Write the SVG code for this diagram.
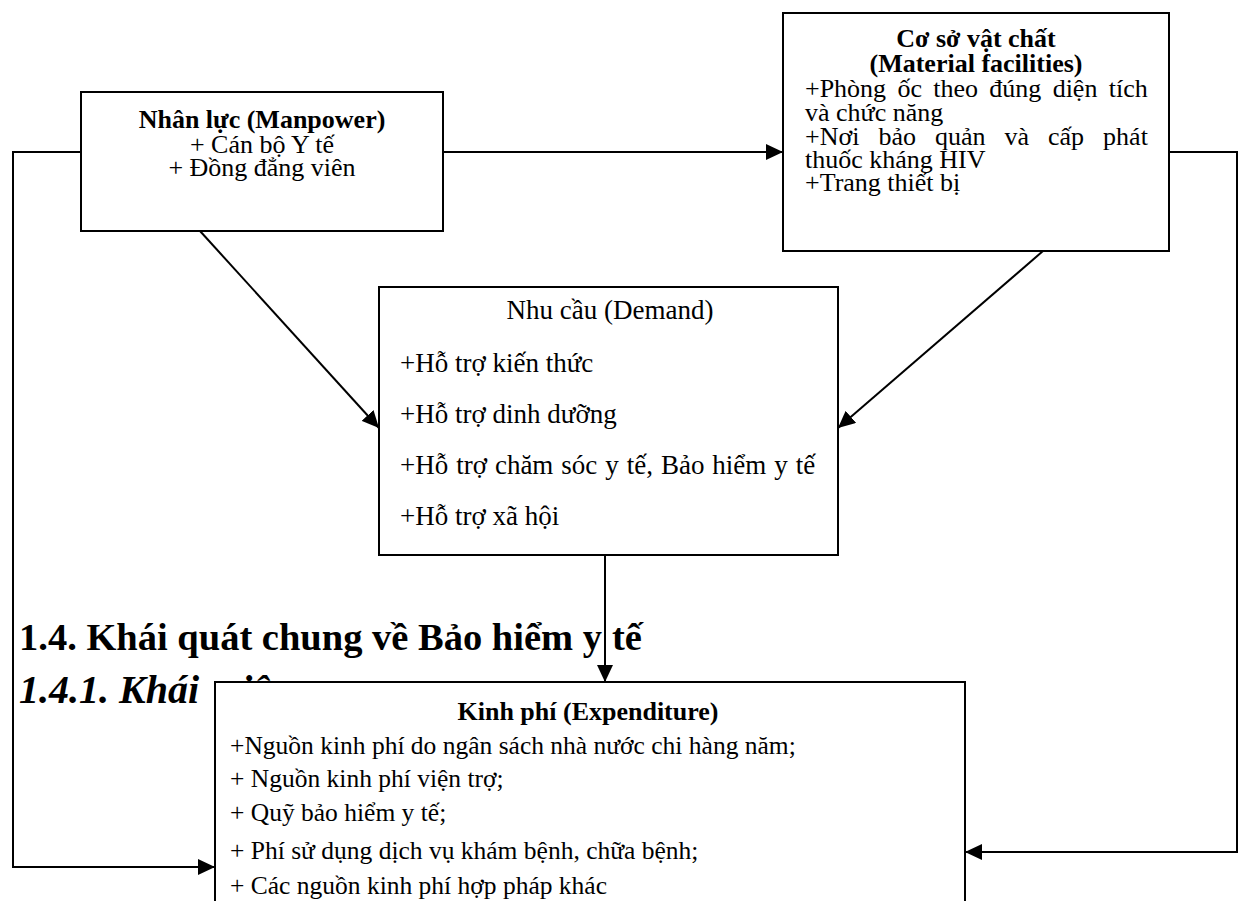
<svg xmlns="http://www.w3.org/2000/svg" width="1243" height="901" viewBox="0 0 1243 901">
<style>
.box{fill:#fff;stroke:#000;stroke-width:2}
.t{font-family:"Liberation Serif","Times New Roman",serif;font-size:26px;fill:#000}
.d{font-size:27px}
.k{font-size:25.5px}
.b{font-weight:bold}
.c{text-anchor:middle}
.h{font-family:"Liberation Serif","Times New Roman",serif;font-size:38.5px;font-weight:bold;fill:#000}
.conn{fill:none;stroke:#000;stroke-width:2}
</style>
<defs>
<marker id="arr" markerUnits="userSpaceOnUse" markerWidth="20" markerHeight="16" refX="17" refY="8" orient="auto">
<path d="M0,0 L17,8 L0,16 Z" fill="#000"/>
</marker>
</defs>
<rect width="1243" height="901" fill="#fff"/>
<g id="headings">
<text class="h" x="19" y="650">1.4. Khái quát chung về Bảo hiểm y <tspan x="612">tế</tspan></text>
<text class="h" x="19" y="703" font-style="italic" style="font-size:40px">1.4.1. Khái <tspan x="219">niệm</tspan></text>
</g>
<g id="manpower">
<rect class="box" x="81" y="92" width="362" height="139"/>
<text class="t b c" x="262" y="128">Nhân lực (Manpower)</text>
<text class="t c" x="262" y="153">+ Cán bộ Y tế</text>
<text class="t c" x="262" y="176">+ Đồng đẳng viên</text>
</g>
<g id="facilities">
<rect class="box" x="783" y="13" width="386" height="238"/>
<text class="t b c" x="976" y="47">Cơ sở vật chất</text>
<text class="t b c" x="976" y="72">(Material facilities)</text>
<text class="t" x="805" y="97" word-spacing="4.8">+Phòng ốc theo đúng diện tích</text>
<text class="t" x="805" y="121">và chức năng</text>
<text class="t" x="805" y="145" word-spacing="12.5">+Nơi bảo quản và cấp phát</text>
<text class="t" x="805" y="168">thuốc kháng HIV</text>
<text class="t" x="805" y="191">+Trang thiết bị</text>
</g>
<g id="demand">
<rect class="box" x="379" y="287" width="459" height="268"/>
<text class="t d c" x="610" y="319">Nhu cầu (Demand)</text>
<text class="t d" x="400" y="372">+Hỗ trợ kiến thức</text>
<text class="t d" x="400" y="423">+Hỗ trợ dinh dưỡng</text>
<text class="t d" x="400" y="474" word-spacing="1.2">+Hỗ trợ chăm sóc y tế, Bảo hiểm y tế</text>
<text class="t d" x="400" y="525">+Hỗ trợ xã hội</text>
</g>
<g id="expenditure">
<rect class="box" x="215" y="682" width="750" height="240"/>
<text class="t b c" x="588" y="720">Kinh phí (Expenditure)</text>
<text class="t k" x="230" y="754">+Nguồn kinh phí do ngân sách nhà nước chi hàng năm;</text>
<text class="t k" x="230" y="787">+ Nguồn kinh phí viện trợ;</text>
<text class="t k" x="230" y="821">+ Quỹ bảo hiểm y tế;</text>
<text class="t k" x="230" y="859">+ Phí sử dụng dịch vụ khám bệnh, chữa bệnh;</text>
<text class="t k" x="230" y="894">+ Các nguồn kinh phí hợp pháp khác</text>
</g>
<g id="connectors">
<path class="conn" d="M443,152 L783,152" marker-end="url(#arr)"/>
<path class="conn" d="M81,152 L13,152 L13,867 L215,867" marker-end="url(#arr)"/>
<path class="conn" d="M1169,152 L1237,152 L1237,852 L965,852" marker-end="url(#arr)"/>
<path class="conn" d="M200,231 L379,428" marker-end="url(#arr)"/>
<path class="conn" d="M1043,251 L838,428" marker-end="url(#arr)"/>
<path class="conn" d="M605,555 L605,682" marker-end="url(#arr)"/>
</g>
</svg>
